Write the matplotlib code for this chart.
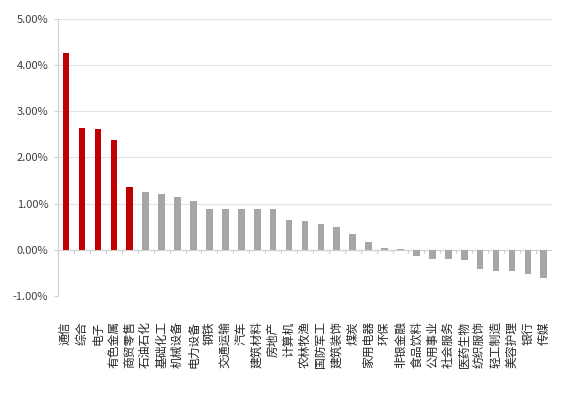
import numpy as np
import matplotlib.pyplot as plt
from matplotlib.ticker import FuncFormatter, MultipleLocator

plt.rcParams['font.family'] = ['Noto Sans CJK SC', 'DejaVu Sans']

industries = ['通信', '综合', '电子', '有色金属', '商贸零售', '石油石化', '基础化工',
              '机械设备', '电力设备', '钢铁', '交通运输', '汽车', '建筑材料', '房地产',
              '计算机', '农林牧渔', '国防军工', '建筑装饰', '煤炭', '家用电器', '环保',
              '非银金融', '食品饮料', '公用事业', '社会服务', '医药生物', '纺织服饰',
              '轻工制造', '美容护理', '银行', '传媒']
returns = [4.27, 2.63, 2.61, 2.37, 1.36, 1.26, 1.21, 1.15, 1.05, 0.89, 0.88, 0.88,
           0.88, 0.88, 0.64, 0.63, 0.56, 0.49, 0.34, 0.17, 0.04, 0.02, -0.13, -0.19,
           -0.19, -0.23, -0.41, -0.47, -0.47, -0.53, -0.61]
n_top = 5

red = '#C00000'
grey = '#A6A6A6'
colors = [red if i < n_top else grey for i in range(len(returns))]

fig = plt.figure(figsize=(5.7, 3.93), dpi=100)
ax = fig.add_axes([0.102, 0.247, 0.866, 0.705])

x = np.arange(len(industries))
ax.bar(x, returns, width=0.42, color=colors, zorder=3)

ax.set_xlim(-0.5, len(industries) - 0.5)
ax.set_ylim(-1, 5)
ax.yaxis.set_major_locator(MultipleLocator(1))
ax.yaxis.set_major_formatter(FuncFormatter(lambda v, p: '%.2f%%' % v))
ax.grid(axis='y', color='#E3E3E3', linewidth=0.8, zorder=0)

for s in ['top', 'right', 'bottom']:
    ax.spines[s].set_visible(False)
ax.spines['left'].set_color('#D0D0D0')
ax.axhline(0, color='#D0D0D0', linewidth=0.8, zorder=2)

ax.tick_params(axis='y', length=3, color='#D0D0D0', labelsize=8, labelcolor='#404040', pad=4)
ax.set_xticks([])
# category boundary ticks below zero line
for b in np.arange(len(industries) + 1) - 0.5:
    ax.plot([b, b], [0, -0.08], color='#D0D0D0', linewidth=0.8, zorder=2)

for xi, name in zip(x, industries):
    ax.text(xi, -1.55, name, rotation=90, ha='center', va='top',
            fontsize=8.5, color='#262626', rotation_mode='default')

fig.savefig('out.png', dpi=100)
